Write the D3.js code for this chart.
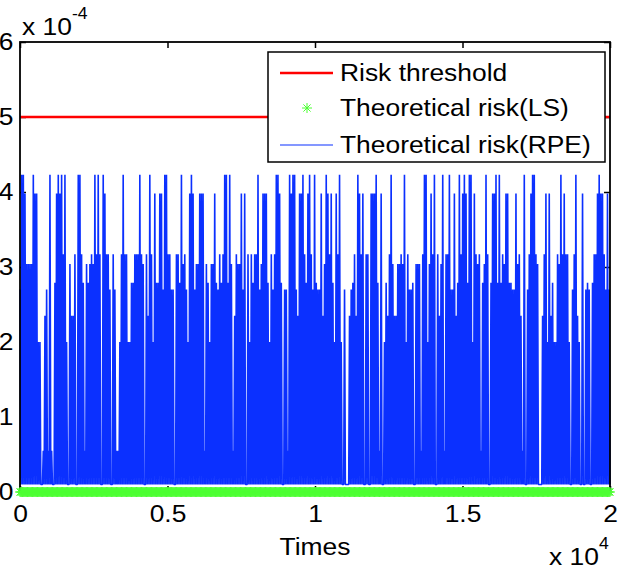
<!DOCTYPE html>
<html><head><meta charset="utf-8">
<script src="https://cdn.jsdelivr.net/npm/d3@7"></script>
<style>
body{margin:0;background:#fff}
svg{display:block}
text{font-family:Arial,"Liberation Sans",Helvetica,sans-serif;fill:#000}
</style>
</head><body>
<svg id="chart" width="621" height="575"></svg>
<script>
// ---------- data ----------
const xTicks = [0, 5000, 10000, 15000, 20000];
const xTickLabels = ["0", "0.5", "1", "1.5", "2"];
const yTicks = [0, 1e-4, 2e-4, 3e-4, 4e-4, 5e-4, 6e-4];
const yTickLabels = ["0", "1", "2", "3", "4", "5", "6"];
const xDomain = [0, 20000];
const yDomain = [0, 6e-4];
const thresholdValue = 5e-4;          // Risk threshold
const lsRiskValue = 0;                // Theoretical risk (LS) stays at zero
const seriesNames = ["Risk threshold", "Theoretical risk(LS)", "Theoretical risk(RPE)"];
// discrete risk levels taken by the RPE series
const rpeLevels = {A: 4.23e-4, B: 3.98e-4, C: 3.17e-4, D: 3.04e-4, E: 2.79e-4,
                   F: 2.70e-4, G: 2.35e-4, H: 2.00e-4, I: 0.55e-4, J: 0.10e-4};
// RPE samples in time order (one letter per sample, level codes above)
const rpeSamples = [
 "FJ AJ AJ BJ DJ DJ DJ DJ AJ BJ BJ HJ HJ JJ IJ GJ FJ IJ AJ IJ JJ EJ BJ AJ BJ AJ CJ AJ HJ JJ DJ GJ GJ CJ JJ AJ AJ CJ EJ IJ",
 "DJ EJ DJ CJ DJ AJ CJ AJ CJ JJ AJ BJ CJ CJ FJ JJ CJ FJ IJ IJ HJ CJ AJ CJ CJ HJ HJ EJ EJ",
 "CJ CJ CJ AJ CJ DJ JJ CJ GJ AJ CJ HJ BJ EJ EJ BJ BJ FJ AJ AJ CJ CJ FJ FJ JJ CJ CJ EJ AJ DJ CJ FJ HJ BJ AJ BJ FJ DJ DJ BJ",
 "BJ BJ IJ DJ EJ HJ DJ DJ BJ EJ FJ CJ EJ CJ AJ AJ EJ AJ DJ IJ GJ CJ DJ DJ BJ FJ BJ JJ CJ HJ CJ EJ CJ CJ",
 "AJ FJ DJ BJ BJ BJ EJ HJ CJ FJ CJ AJ AJ BJ EJ JJ FJ FJ IJ AJ BJ AJ AJ FJ GJ BJ BJ AJ CJ EJ BJ AJ CJ FJ AJ EJ FJ FJ BJ GJ",
 "DJ AJ BJ CJ BJ EJ HJ BJ CJ AJ HJ JJ FJ JJ JJ GJ FJ EJ CJ GJ AJ BJ CJ BJ JJ CJ CJ JJ BJ BJ",
 "BJ AJ EJ IJ BJ JJ HJ EJ GJ CJ AJ DJ GJ GJ DJ DJ CJ DJ AJ HJ CJ FJ FJ EJ JJ DJ DJ DJ IJ CJ AJ AJ HJ DJ BJ CJ AJ JJ CJ GJ",
 "DJ AJ IJ CJ CJ AJ FJ FJ BJ GJ EJ AJ CJ BJ AJ BJ EJ AJ AJ HJ BJ CJ DJ CJ IJ EJ DJ AJ CJ JJ EJ BJ BJ",
 "AJ EJ AJ EJ CJ DJ BJ BJ EJ EJ FJ FJ BJ DJ CJ GJ IJ AJ JJ FJ CJ BJ AJ AJ CJ DJ JJ JJ GJ CJ BJ HJ BJ GJ EJ HJ HJ CJ DJ AJ",
 "CJ BJ CJ CJ HJ JJ FJ CJ AJ GJ HJ JJ BJ JJ FJ EJ FJ JJ EJ CJ CJ BJ AJ BJ BJ CJ FJ BJ FJ"
];

// ---------- build ----------
const rpeCodes = rpeSamples.join("").replace(/\s+/g, "").split("");
const nS = rpeCodes.length;
const rpeData = rpeCodes.map((c, i) => ({t: xDomain[0] + i * (xDomain[1] - xDomain[0]) / (nS - 1), v: rpeLevels[c]}));
const lsData = rpeData.map(d => ({t: d.t, v: lsRiskValue}));

const plotLeft = 20, plotRight = 610, plotTop = 42, plotBottom = 492;
const FS = 24, SX = 1.1, FONT = "Arial, 'Liberation Sans', sans-serif";
const x = d3.scaleLinear().domain(xDomain).range([plotLeft, plotRight]);
const y = d3.scaleLinear().domain(yDomain).range([plotBottom, plotTop]);

const svg = d3.select("#chart");
svg.append("rect").attr("width", 621).attr("height", 575).attr("fill", "#fff");

const red = "#ff0000", green = "#4dff33", blue = "#0b30ff";

// axes (ticks + labels)
const axG = svg.append("g");
axG.append("g").attr("transform", `translate(0,${plotBottom})`)
  .call(d3.axisBottom(x).tickValues(xTicks).tickFormat((d, i) => xTickLabels[i]).tickSizeInner(-6).tickSizeOuter(0).tickPadding(13));
axG.append("g").attr("transform", `translate(${plotLeft},0)`)
  .call(d3.axisLeft(y).tickValues(yTicks).tickFormat((d, i) => yTickLabels[i]).tickSizeInner(-6).tickSizeOuter(0).tickPadding(6));
axG.append("g").attr("transform", `translate(0,${plotTop})`)
  .call(d3.axisTop(x).tickValues(xTicks).tickFormat("").tickSizeInner(-6).tickSizeOuter(0));
axG.append("g").attr("transform", `translate(${plotRight},0)`)
  .call(d3.axisRight(y).tickValues(yTicks).tickFormat("").tickSizeInner(-6).tickSizeOuter(0));
axG.selectAll(".domain").remove();
axG.selectAll(".tick line").attr("stroke", "#000").attr("stroke-width", 1.5);
axG.selectAll(".tick text").attr("font-size", FS).attr("font-family", FONT).attr("fill", "#000")
  .attr("transform", `scale(${SX},1)`);

// data
const line = d3.line().x(d => x(d.t)).y(d => y(d.v));
svg.append("path").datum(xDomain.map(t => ({t, v: thresholdValue})))
  .attr("d", line).attr("fill", "none").attr("stroke", red).attr("stroke-width", 2.3);
svg.append("path").datum(rpeData)
  .attr("d", line).attr("fill", "none").attr("stroke", blue).attr("stroke-width", 1.6)
  .attr("stroke-linejoin", "miter").attr("stroke-miterlimit", 1);

svg.append("rect").attr("x", plotLeft).attr("y", plotTop).attr("width", plotRight - plotLeft).attr("height", plotBottom - plotTop)
  .attr("fill", "none").attr("stroke", "#000").attr("stroke-width", 1.8);

function starPath(r) {
  const q = r * 0.72;
  return `M${-r},0L${r},0M0,${-r}L0,${r}M${-q},${-q}L${q},${q}M${-q},${q}L${q},${-q}`;
}
svg.append("g").selectAll("path").data(lsData).join("path")
  .attr("transform", d => `translate(${x(d.t)},${y(d.v)})`)
  .attr("d", starPath(5)).attr("stroke", green).attr("stroke-width", 1).attr("fill", "none");

function addText(px, py, str, anchor) {
  return svg.append("text").attr("transform", `translate(${px},${py}) scale(${SX},1)`)
    .attr("font-size", FS).attr("font-family", FONT).attr("text-anchor", anchor || "start").text(str);
}

// exponent labels
const e1 = addText(22, 35, "x 10");
e1.append("tspan").attr("font-size", 16).attr("dy", -16).text("-4");
const e2 = addText(549, 565, "x 10");
e2.append("tspan").attr("font-size", 16).attr("dy", -16).text("4");
addText((plotLeft + plotRight) / 2, 555, "Times", "middle");

// legend
const lg = svg.append("g");
lg.append("rect").attr("x", 268).attr("y", 52).attr("width", 337).attr("height", 110)
  .attr("fill", "#fff").attr("stroke", "#000").attr("stroke-width", 1.5);
const rowsY = [73, 108, 145];
lg.append("line").attr("x1", 280).attr("x2", 333).attr("y1", rowsY[0]).attr("y2", rowsY[0]).attr("stroke", red).attr("stroke-width", 2.3);
lg.append("path").attr("transform", `translate(307,${rowsY[1]})`).attr("d", starPath(5)).attr("stroke", green).attr("fill", "none");
lg.append("line").attr("x1", 280).attr("x2", 333).attr("y1", rowsY[2]).attr("y2", rowsY[2]).attr("stroke", blue).attr("stroke-width", 1.2);
seriesNames.forEach((n, i) => addText(340, rowsY[i] + 8, n));
</script>
</body></html>
